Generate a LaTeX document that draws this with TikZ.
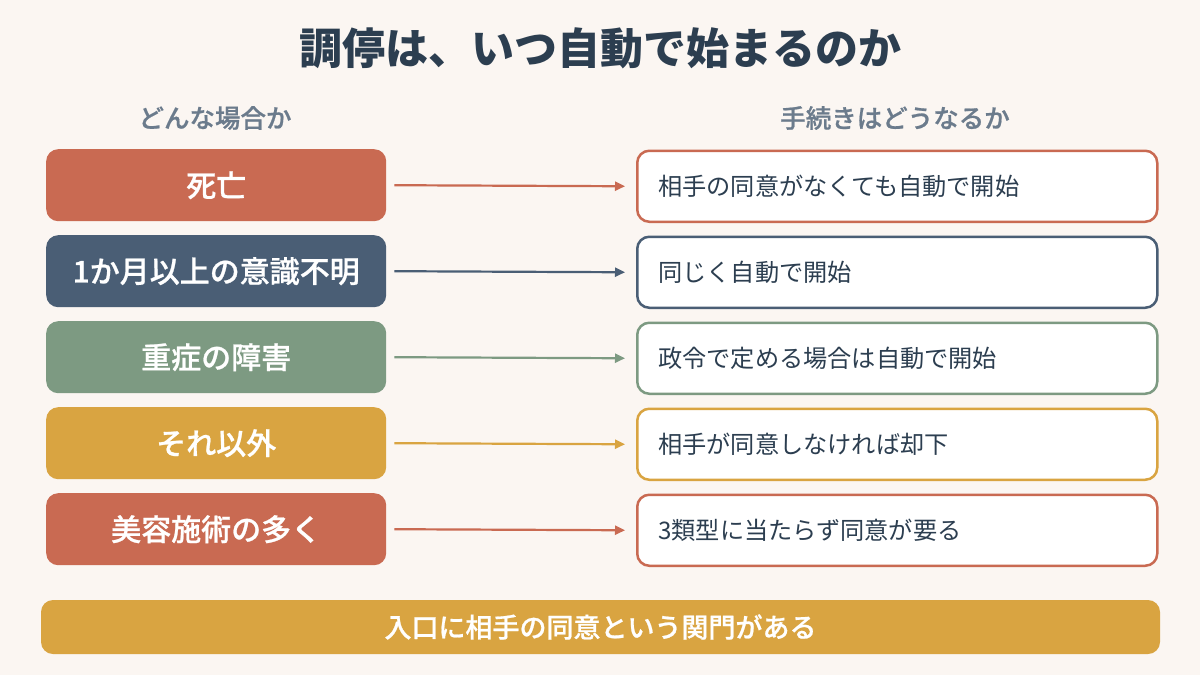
\documentclass[tikz,border=0pt]{standalone}
\usepackage{fontspec}
\setmainfont{Noto Sans CJK JP}
\newfontfamily\medfont{Noto Sans CJK JP Medium}
\newfontfamily\semifont{Noto Sans CJK JP Medium}[FakeBold=0.8]
\usetikzlibrary{arrows.meta}
\definecolor{bg}{HTML}{FBF6F2}
\definecolor{terra}{HTML}{C96A52}
\definecolor{slate}{HTML}{4A5E75}
\definecolor{sage}{HTML}{7D9A82}
\definecolor{gold}{HTML}{D9A441}
\definecolor{titlec}{HTML}{2C3E50}
\definecolor{headc}{HTML}{6B7B8C}
\definecolor{textc}{HTML}{2C3E50}
\tikzset{
  casebox/.style={rounded corners=12pt, minimum width=340pt, minimum height=72pt, inner sep=0pt,
    text=white, font=\fontsize{30}{33}\semifont, anchor=north west},
  resbox/.style={rounded corners=12pt, minimum width=520pt, minimum height=71pt, inner sep=0pt,
    fill=white, line width=2.5pt, anchor=north west},
  restext/.style={text=textc, font=\fontsize{24.2}{28}\selectfont, anchor=west, inner sep=0pt},
  conn/.style={line width=2.2pt, -{Triangle[length=10pt,width=9pt]}},
  head/.style={text=headc, font=\fontsize{25.5}{28}\semifont},
}
\begin{document}
\begin{tikzpicture}[x=1pt,y=-1pt]
\fill[bg] (0,0) rectangle (1200,675);
\useasboundingbox (0,0) rectangle (1200,675);
\node[text=titlec, font=\fontsize{43}{48}\selectfont\bfseries] (title) at (600,48) {調停は、いつ自動で始まるのか};
\node[head] (hl) at (215,118) {どんな場合か};
\node[head] (hr) at (895,118) {手続きはどうなるか};
\foreach \i/\c/\l/\r [count=\k from 0] in {
  a/terra/死亡/相手の同意がなくても自動で開始,
  b/slate/1か月以上の意識不明/同じく自動で開始,
  c/sage/重症の障害/政令で定める場合は自動で開始,
  d/gold/それ以外/相手が同意しなければ却下,
  e/terra/美容施術の多く/3類型に当たらず同意が要る}{
  \pgfmathsetmacro{\yy}{149+86*\k}
  \node[casebox, fill=\c] (L\i) at (46,\yy) {\l};
  \node[resbox, draw=\c] (R\i) at (636,\yy+0.5) {};
  \node[restext] (T\i) at ([xshift=22pt]R\i.west) {\r};
  \draw[conn, draw=\c, fill=\c] ([xshift=8pt]L\i.east) -- ([xshift=-11pt]R\i.west);
}
\node[fill=gold, rounded corners=12pt, minimum width=1119pt, minimum height=54pt, inner sep=0pt,
  text=white, font=\fontsize{27}{30}\semifont] (bar) at (600.5,627) {入口に相手の同意という関門がある};
\end{tikzpicture}
\end{document}
